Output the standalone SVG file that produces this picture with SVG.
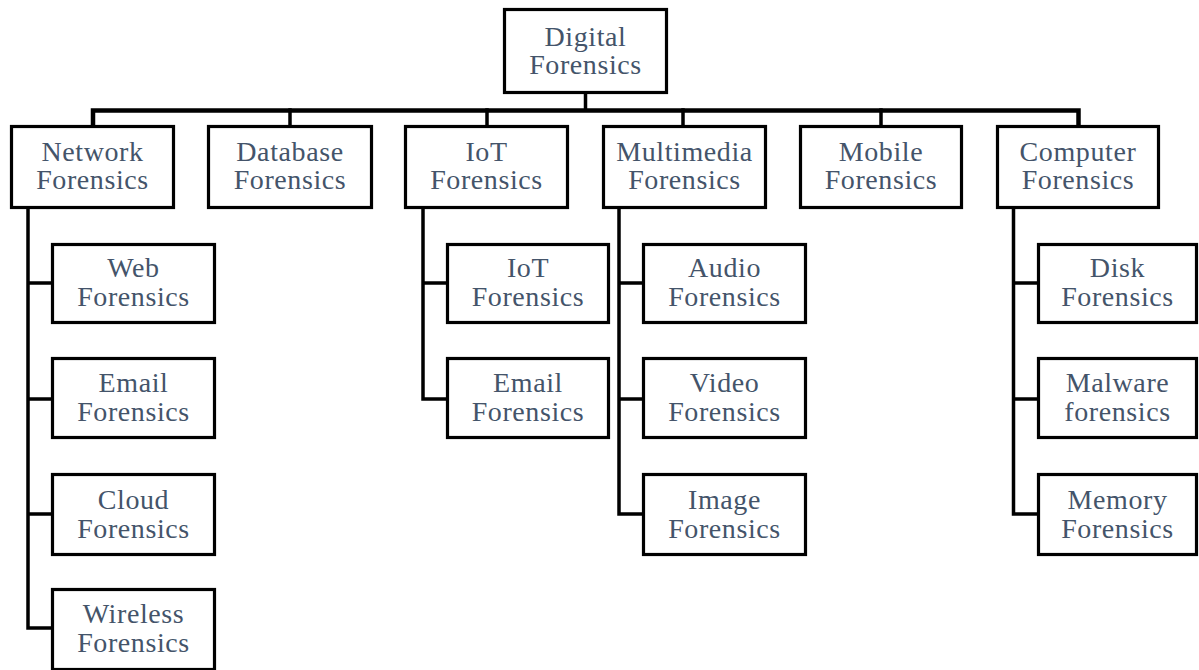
<svg xmlns="http://www.w3.org/2000/svg" width="1199" height="670" viewBox="0 0 1199 670">
<style>
.box{fill:#ffffff;stroke:#000000;stroke-width:3.2}
text{font-size:28px;fill:#44546A;text-anchor:middle;letter-spacing:0.6px}
.con{fill:none;stroke:#000000;stroke-width:3.5;stroke-linejoin:miter;stroke-linecap:square}
.bus{fill:none;stroke:#000000;stroke-width:4.5;stroke-linejoin:miter;stroke-linecap:square}
</style>
<rect width="1199" height="670" fill="#ffffff"/>
<g id="connectors">
<path class="con" d="M585.5,94 V110"/>
<path class="bus" d="M93,124 V110.5 H1078.5 V124"/>
<path class="con" d="M290,110 V124 M487,110 V124 M683,110 V124 M881,110 V124"/>
<path class="con" d="M28,209 V628 H51 M28,283 H51 M28,399 H51 M28,514 H51"/>
<path class="con" d="M423,209 V399 H446 M423,283 H446"/>
<path class="con" d="M619,209 V514 H642 M619,283 H642 M619,399 H642"/>
<path class="con" d="M1013.5,209 V514 H1037 M1013.5,283 H1037 M1013.5,399 H1037"/>
</g>
<g font-family="Liberation Serif, Tinos, Times New Roman, Times, Noto Serif, DejaVu Serif, serif">
<g id="n-digital"><rect class="box" x="504.5" y="9.5" width="162" height="83"/><text><tspan x="585.5" y="45.5">Digital</tspan><tspan x="585.5" y="74">Forensics</tspan></text></g>
<g id="n-network"><rect class="box" x="11.5" y="126.5" width="162" height="81"/><text><tspan x="92.5" y="161">Network</tspan><tspan x="92.5" y="189">Forensics</tspan></text></g>
<g id="n-database"><rect class="box" x="208.5" y="126.5" width="163" height="81"/><text><tspan x="290" y="161">Database</tspan><tspan x="290" y="189">Forensics</tspan></text></g>
<g id="n-iot"><rect class="box" x="405.5" y="126.5" width="162" height="81"/><text><tspan x="486.5" y="161">IoT</tspan><tspan x="486.5" y="189">Forensics</tspan></text></g>
<g id="n-multimedia"><rect class="box" x="603.5" y="126.5" width="162" height="81"/><text><tspan x="684.5" y="161">Multimedia</tspan><tspan x="684.5" y="189">Forensics</tspan></text></g>
<g id="n-mobile"><rect class="box" x="800.5" y="126.5" width="161" height="81"/><text><tspan x="881" y="161">Mobile</tspan><tspan x="881" y="189">Forensics</tspan></text></g>
<g id="n-computer"><rect class="box" x="997.5" y="126.5" width="161" height="81"/><text><tspan x="1078" y="161">Computer</tspan><tspan x="1078" y="189">Forensics</tspan></text></g>
<g id="n-web"><rect class="box" x="52.5" y="244.5" width="162" height="78"/><text><tspan x="133.5" y="277">Web</tspan><tspan x="133.5" y="306">Forensics</tspan></text></g>
<g id="n-email"><rect class="box" x="52.5" y="358.5" width="162" height="79"/><text><tspan x="133.5" y="392">Email</tspan><tspan x="133.5" y="421">Forensics</tspan></text></g>
<g id="n-cloud"><rect class="box" x="52.5" y="474.5" width="162" height="80"/><text><tspan x="133.5" y="508.5">Cloud</tspan><tspan x="133.5" y="537.5">Forensics</tspan></text></g>
<g id="n-wireless"><rect class="box" x="52.5" y="589.5" width="162" height="80"/><text><tspan x="133.5" y="623">Wireless</tspan><tspan x="133.5" y="652">Forensics</tspan></text></g>
<g id="n-iot2"><rect class="box" x="447.5" y="244.5" width="161" height="78"/><text><tspan x="528" y="277">IoT</tspan><tspan x="528" y="306">Forensics</tspan></text></g>
<g id="n-email2"><rect class="box" x="447.5" y="358.5" width="161" height="79"/><text><tspan x="528" y="392">Email</tspan><tspan x="528" y="421">Forensics</tspan></text></g>
<g id="n-audio"><rect class="box" x="643.5" y="244.5" width="162" height="78"/><text><tspan x="724.5" y="277">Audio</tspan><tspan x="724.5" y="306">Forensics</tspan></text></g>
<g id="n-video"><rect class="box" x="643.5" y="358.5" width="162" height="79"/><text><tspan x="724.5" y="392">Video</tspan><tspan x="724.5" y="421">Forensics</tspan></text></g>
<g id="n-image"><rect class="box" x="643.5" y="474.5" width="162" height="80"/><text><tspan x="724.5" y="508.5">Image</tspan><tspan x="724.5" y="537.5">Forensics</tspan></text></g>
<g id="n-disk"><rect class="box" x="1038.5" y="244.5" width="158" height="78"/><text><tspan x="1117.5" y="277">Disk</tspan><tspan x="1117.5" y="306">Forensics</tspan></text></g>
<g id="n-malware"><rect class="box" x="1038.5" y="358.5" width="158" height="79"/><text><tspan x="1117.5" y="392">Malware</tspan><tspan x="1117.5" y="421">forensics</tspan></text></g>
<g id="n-memory"><rect class="box" x="1038.5" y="474.5" width="158" height="80"/><text><tspan x="1117.5" y="508.5">Memory</tspan><tspan x="1117.5" y="537.5">Forensics</tspan></text></g>
</g>
</svg>
